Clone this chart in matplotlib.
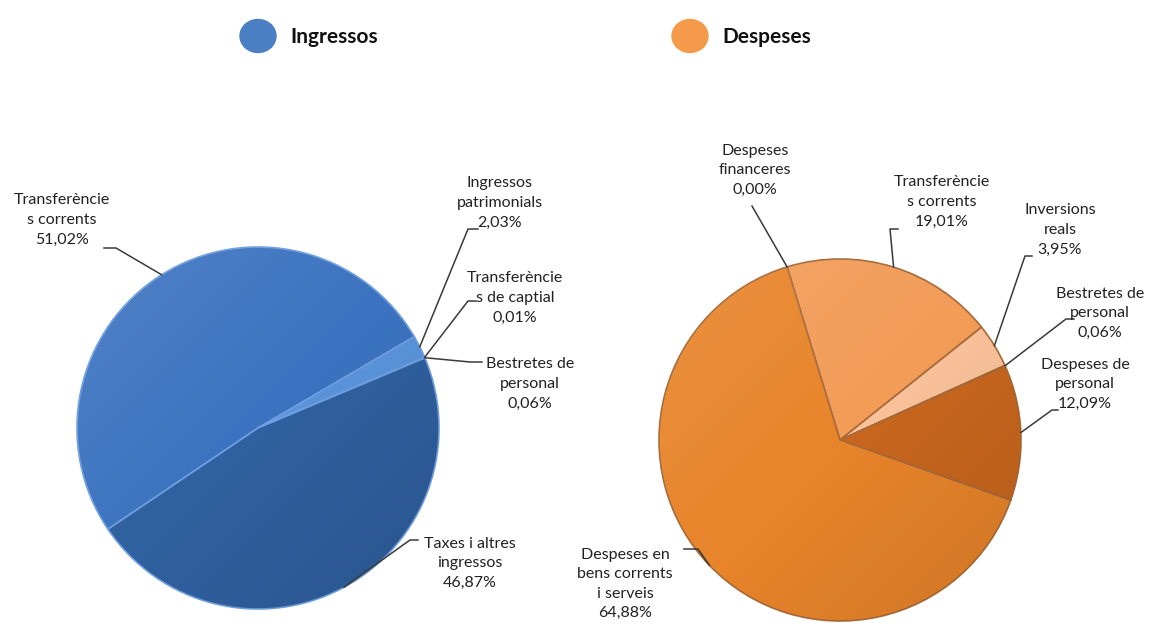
import matplotlib.pyplot as plt
from matplotlib.patches import Circle, Ellipse
import numpy as np

# data
ing_labels = ['Transferèncie\ns corrents', 'Ingressos\npatrimonials', 'Transferèncie\ns de captial',
              'Bestretes de\npersonal', 'Taxes i altres\ningressos']
ing_values = [51.02, 2.03, 0.01, 0.06, 46.87]
ing_colors = ['#3c73c0', '#5b94dc', '#4a80c8', '#4278c2', '#2f609f']

desp_labels = ['Despeses\nfinanceres', 'Transferèncie\ns corrents', 'Inversions\nreals',
               'Bestretes de\npersonal', 'Despeses de\npersonal', 'Despeses en\nbens corrents\ni serveis']
desp_values = [0.00, 19.01, 3.95, 0.06, 12.09, 64.88]
desp_colors = ['#e8842a', '#f29c58', '#f9c29a', '#e0782a', '#c8661e', '#e8842a']

W, H = 1160, 628
plt.rcParams['font.family'] = ['Lato', 'DejaVu Sans']

fig = plt.figure(figsize=(W / 100, H / 100), dpi=100)
ax = fig.add_axes([0, 0, 1, 1])


def py(y):
    # pixel row -> data y
    return H - y


def fmt(v):
    return f'{v:.2f}'.replace('.', ',') + '%'


def draw_pie(values, colors, labels, center, radius, start, edge, label_pos, elbows):
    cx, cy = center[0], py(center[1])
    wedges, _ = ax.pie(values, colors=colors, startangle=start, counterclock=False,
                       center=(cx, cy), radius=radius, frame=True,
                       wedgeprops=dict(edgecolor=edge, linewidth=1.2))
    # soft sheen: lighter top-left, darker bottom-right
    g = np.linspace(0, 1, 200)
    gx, gy = np.meshgrid(g, g)
    t = (gx + gy) / 2
    sheen = np.zeros((200, 200, 4))
    sheen[..., :3] = np.where(t[..., None] < 0.5, 1.0, 0.0)
    sheen[..., 3] = np.abs(t - 0.5) * 0.22
    im = ax.imshow(sheen, extent=[cx - radius, cx + radius, cy - radius, cy + radius],
                   origin='upper', zorder=2, interpolation='bilinear')
    im.set_clip_path(Circle((cx, cy), radius, transform=ax.transData))
    for w in wedges:
        w.set_zorder(1)

    for w, lab, v, (lx, ly), el in zip(wedges, labels, values, label_pos, elbows):
        mid = np.deg2rad((w.theta1 + w.theta2) / 2)
        px = cx + radius * np.cos(mid)
        pyy = cy + radius * np.sin(mid)
        ex, ey, hx = el
        ax.plot([px, ex, hx], [pyy, py(ey), py(ey)], color='#3a3a3a', lw=1.1, zorder=5)
        ax.text(lx, py(ly), lab + '\n' + fmt(v), ha='center', va='center',
                fontsize=11.5, color='#222222', linespacing=1.5, zorder=6)


draw_pie(ing_values, ing_colors, ing_labels, (258, 428), 181, 214, '#6f9fe0',
         [(62, 220), (500, 203), (515, 298), (530, 384), (470, 563)],
         [(116, 248, 104), (468, 229, 478), (468, 301, 476), (470, 362, 482), (410, 540, 418)])

draw_pie(desp_values, desp_colors, desp_labels, (840, 440), 181, 107, '#a86a3a',
         [(755, 170), (942, 202), (1060, 230), (1100, 313), (1085, 384), (625, 584)],
         [(752, 206, 752), (890, 229, 898), (1025, 256, 1032), (1066, 319, 1074),
          (1052, 410, 1058), (698, 549, 684)])

# legend
ax.add_patch(Ellipse((258, py(36)), 36, 33, color='#4a7fc4'))
ax.text(290, py(37), 'Ingressos', fontsize=15, fontweight='bold', va='center', color='#111111')
ax.add_patch(Ellipse((690, py(36)), 36, 33, color='#f59a4a'))
ax.text(722, py(37), 'Despeses', fontsize=15, fontweight='bold', va='center', color='#111111')

ax.set_xlim(0, W)
ax.set_ylim(0, H)
ax.set_aspect('equal')
ax.axis('off')

fig.savefig('out.png', dpi=100, facecolor='white')
